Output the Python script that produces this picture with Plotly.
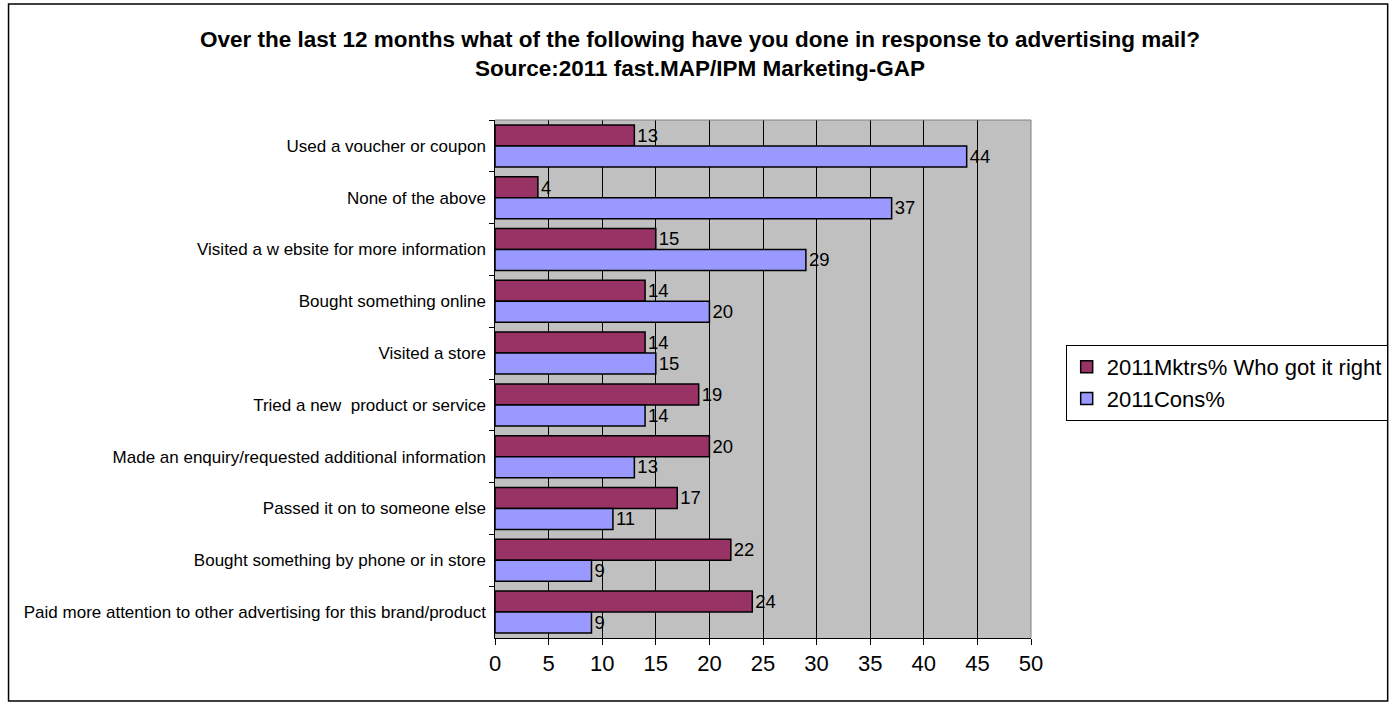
import plotly.graph_objects as go

categories = [
    "Used a voucher or coupon",
    "None of the above",
    "Visited a w ebsite for more information",
    "Bought something online",
    "Visited a store",
    "Tried a new  product or service",
    "Made an enquiry/requested additional information",
    "Passed it on to someone else",
    "Bought something by phone or in store",
    "Paid more attention to other advertising for this brand/product",
]
mktrs = [13, 4, 15, 14, 14, 19, 20, 17, 22, 24]
cons = [44, 37, 29, 20, 15, 14, 13, 11, 9, 9]
x_ticks = [0, 5, 10, 15, 20, 25, 30, 35, 40, 45, 50]

W, H = 1400, 707
L, R, T, B = 495, 1036, 120, 638

fig = go.Figure()
fig.add_trace(go.Bar(
    y=categories, x=mktrs, orientation="h", name="2011Mktrs% Who got it right",
    marker=dict(color="#993366", line=dict(color="black", width=1.5)),
    text=[str(v) for v in mktrs], textposition="outside",
    textfont=dict(family="Arial", size=22, color="black"), cliponaxis=False,
))
fig.add_trace(go.Bar(
    y=categories, x=cons, orientation="h", name="2011Cons%",
    marker=dict(color="#9999FF", line=dict(color="black", width=1.5)),
    text=[str(v) for v in cons], textposition="outside",
    textfont=dict(family="Arial", size=22, color="black"), cliponaxis=False,
))

pw, ph = R - L, B - T


def px(x):
    return (x - L) / pw


def py(y):
    return (B - y) / ph


fig.update_layout(
    width=W, height=H,
    margin=dict(l=L, r=W - R, t=T, b=H - B),
    paper_bgcolor="white", plot_bgcolor="#C0C0C0",
    barmode="group", bargap=0.19, bargroupgap=0,
    font=dict(family="Arial", color="black"),
    title=dict(
        text="Over the last 12 months what of the following have you done in response to advertising mail?"
             "<br>Source:2011 fast.MAP/IPM Marketing-GAP",
        x=0.5, xanchor="center", y=1 - 47 / H, yanchor="top",
        font=dict(family="Arial", size=22.5, color="black", weight="bold"),
    ),
    xaxis=dict(
        range=[0, 50], tickvals=x_ticks, showgrid=True, gridcolor="black", gridwidth=1,
        ticks="outside", ticklen=6, tickcolor="black",
        showline=True, linecolor="black", linewidth=1, zeroline=False,
        tickfont=dict(family="Arial", size=22, color="black"),
    ),
    yaxis=dict(
        autorange="reversed", ticks="outside", ticklen=5, tickcolor="black",
        tickson="boundaries", showline=True, linecolor="black", linewidth=1,
        tickfont=dict(family="Arial", size=17, color="black"), ticksuffix=" ",
    ),
    legend=dict(
        x=px(1071), xanchor="left", y=py(345), yanchor="top",
        bgcolor="white", bordercolor="black", borderwidth=1,
        font=dict(family="Arial", size=22, color="black"),
    ),
    shapes=[
        dict(type="line", xref="paper", yref="paper", x0=0, x1=1, y0=1, y1=1,
             line=dict(color="#808080", width=1)),
        dict(type="line", xref="paper", yref="paper", x0=1, x1=1, y0=0, y1=1,
             line=dict(color="#808080", width=1)),
        dict(type="rect", xref="paper", yref="paper",
             x0=px(4), x1=px(1396), y0=py(701), y1=py(4),
             line=dict(color="black", width=1.5), layer="below"),
    ],
)

fig.write_html("out.html")
